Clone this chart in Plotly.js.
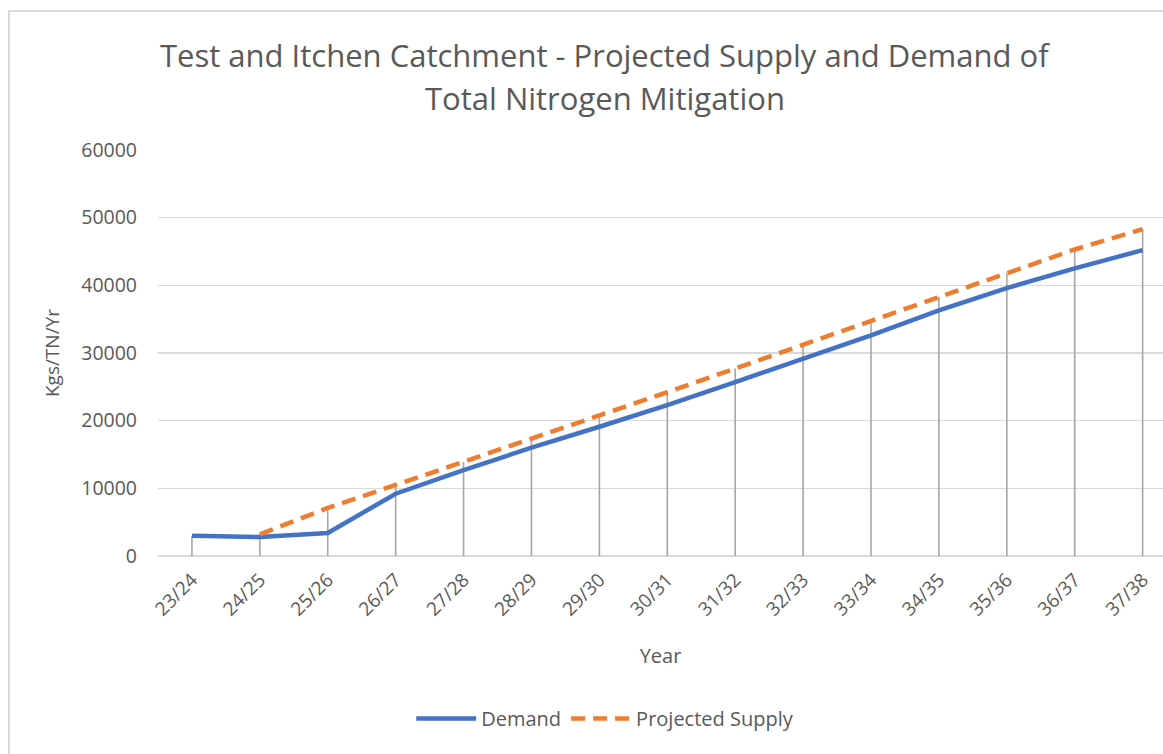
<!DOCTYPE html>
<html>
<head>
<meta charset="utf-8">
<script src="https://cdn.plot.ly/plotly-3.0.1.min.js"></script>
<style>
  html, body { margin: 0; padding: 0; background: #fff; }
  #wrap { position: relative; width: 1163px; height: 754px; overflow: hidden; }
  #chart { width: 1163px; height: 754px; }
  #frame { position: absolute; left: 8px; top: 10px; width: 1300px; height: 900px;
           border: 2px solid #d9d9d9; pointer-events: none; }
</style>
</head>
<body>
<div id="wrap">
  <div id="chart"></div>
  <div id="frame"></div>
</div>
<script>
const years = ["23/24","24/25","25/26","26/27","27/28","28/29","29/30","30/31","31/32","32/33","33/34","34/35","35/36","36/37","37/38"];
const demand = [3000, 2800, 3400, 9200, 12700, 16000, 19100, 22300, 25700, 29200, 32600, 36300, 39600, 42500, 45200];
const supply = [null, 3200, 7100, 10500, 13900, 17300, 20800, 24200, 27700, 31200, 34700, 38300, 41800, 45300, 48300];
const titleLines = ["Test and Itchen Catchment - Projected Supply and Demand of", "Total Nitrogen Mitigation"];

const dropTop = years.map((_, i) => Math.max(demand[i] ?? -Infinity, supply[i] ?? -Infinity));

const textColor = "#595959";
const fontFam = "Open Sans, Lato, sans-serif";

const traces = [
  {
    x: years, y: dropTop, type: "scatter", mode: "markers",
    marker: { size: 0.1, color: "rgba(0,0,0,0)" },
    error_y: { type: "data", symmetric: false, array: years.map(() => 0), arrayminus: dropTop,
               color: "#a6a6a6", thickness: 1.6, width: 0 },
    showlegend: false, hoverinfo: "skip"
  },
  {
    x: years, y: demand, type: "scatter", mode: "lines", name: "Demand",
    line: { color: "#4472C4", width: 4.5 }
  },
  {
    x: years, y: supply, type: "scatter", mode: "lines", name: "Projected Supply",
    line: { color: "#ED7D31", width: 4.5, dash: "14px,8px" }
  }
];

const layout = {
  width: 1163, height: 754,
  margin: { l: 158, r: 0, t: 150, b: 198 },
  paper_bgcolor: "#fff", plot_bgcolor: "#fff",
  font: { family: fontFam, color: textColor },
  annotations: [
    { text: titleLines[0], xref: "paper", yref: "paper", x: 0.445, y: 1.234,
      xanchor: "center", yanchor: "middle", showarrow: false,
      font: { size: 31, color: textColor, family: fontFam } },
    { text: titleLines[1], xref: "paper", yref: "paper", x: 0.445, y: 1.128,
      xanchor: "center", yanchor: "middle", showarrow: false,
      font: { size: 31, color: textColor, family: fontFam } }
  ],
  xaxis: {
    type: "category", range: [-0.5, 14.3],
    tickangle: -45, tickfont: { size: 19, color: textColor },
    ticklabelstandoff: 8,
    showgrid: false, zeroline: false, showline: false, ticks: "",
    title: { text: "Year", font: { size: 20, color: textColor }, standoff: 28 }
  },
  yaxis: {
    range: [0, 60000], dtick: 10000, tickformat: "d",
    tickfont: { size: 19.5, color: textColor },
    ticklabelstandoff: 20,
    showgrid: true, gridcolor: "#d9d9d9", gridwidth: 1.3,
    zeroline: true, zerolinecolor: "#d9d9d9", zerolinewidth: 1.3,
    showline: false, ticks: "", ticklen: 0,
    title: { text: "Kgs/TN/Yr", font: { size: 19, color: textColor }, standoff: 16 }
  },
  legend: {
    orientation: "h", x: 0.445, xanchor: "center", y: -0.40, yanchor: "middle",
    font: { size: 20, color: textColor }, itemwidth: 60
  },
  showlegend: true
};

Plotly.newPlot("chart", traces, layout, { displayModeBar: false, staticPlot: true });
</script>
</body>
</html>
